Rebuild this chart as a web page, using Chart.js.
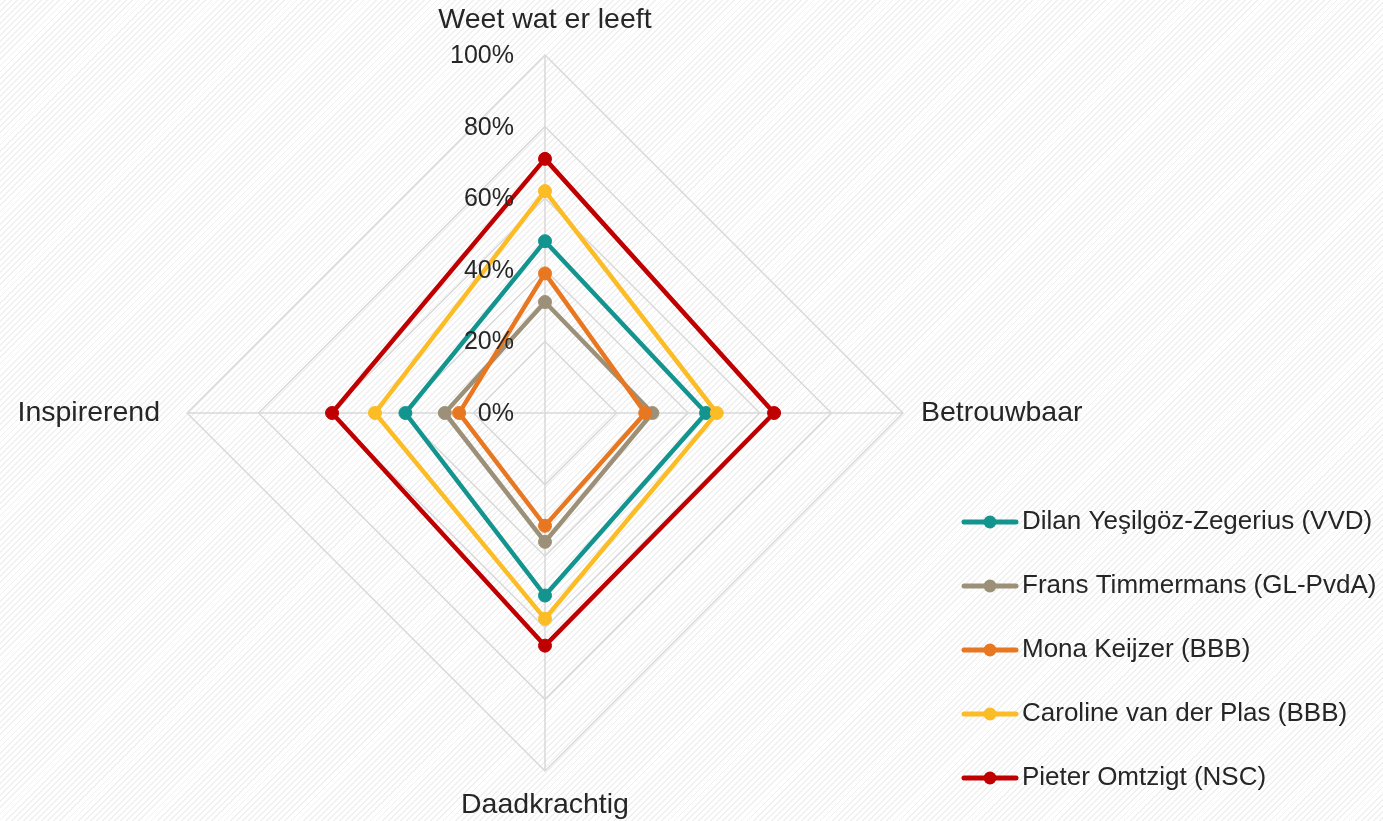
<!DOCTYPE html>
<html>
<head>
<meta charset="utf-8">
<script src="https://cdn.jsdelivr.net/npm/chart.js@4/dist/chart.umd.min.js"></script>
<style>
  html, body { margin: 0; padding: 0; }
  body {
    width: 1383px; height: 821px; overflow: hidden;
    background-color: #ffffff;
    background-image: repeating-linear-gradient(135deg, #ffffff 0px, #ffffff 3px, #f0f0f0 3px, #f0f0f0 4.3px);
  }
  #wrap { position: relative; width: 1383px; height: 821px; }
</style>
</head>
<body>
<div id="wrap"><canvas id="c" width="1383" height="821"></canvas></div>
<script>
const categories = ['Weet wat er leeft', 'Betrouwbaar', 'Daadkrachtig', 'Inspirerend'];
const seriesNames = [
  'Dilan Yeşilgöz-Zegerius (VVD)',
  'Frans Timmermans (GL-PvdA)',
  'Mona Keijzer (BBB)',
  'Caroline van der Plas (BBB)',
  'Pieter Omtzigt (NSC)'
];
const dilan = [48, 45, 51, 39];
const frans = [31, 30, 36, 28];
const mona = [39, 28, 31.5, 24];
const caroline = [62, 48, 57.5, 47.5];
const pieter = [71, 64, 65, 59.5];
const tickMin = 0, tickMax = 100, tickStep = 20;
const tickSuffix = '%';

const colors = ['#14948F', '#9C9178', '#E87722', '#FBBC26', '#C00000'];
const seriesValues = [dilan, frans, mona, caroline, pieter];
const FONT = '"Liberation Sans", Arial, Helvetica, sans-serif';
const TEXT = '#262626';
const labelPadding = [20, 18, 20, 27];

const datasets = seriesValues.map((vals, i) => ({
  label: seriesNames[i],
  data: vals,
  borderColor: colors[i],
  backgroundColor: colors[i],
  pointBackgroundColor: colors[i],
  pointBorderColor: colors[i],
  borderWidth: 4.5,
  pointRadius: 6.5,
  pointBorderWidth: 1,
  fill: false,
  order: seriesValues.length - 1 - i
}));

const tickLabelPlugin = {
  id: 'tickLabels',
  afterDatasetsDraw(chart) {
    const s = chart.scales.r;
    const ctx = chart.ctx;
    ctx.save();
    ctx.font = '25px ' + FONT;
    ctx.fillStyle = TEXT;
    ctx.textAlign = 'right';
    ctx.textBaseline = 'middle';
    s.ticks.forEach(t => {
      const d = s.getDistanceFromCenterForValue(t.value);
      ctx.fillText(t.label, s.xCenter - 31, s.yCenter - d + 1);
    });
    ctx.restore();
  }
};

const legendPlugin = {
  id: 'sideLegend',
  afterDraw(chart) {
    const ctx = chart.ctx;
    ctx.save();
    chart.data.datasets.forEach((ds, i) => {
      const y = 522 + i * 64;
      ctx.strokeStyle = ds.borderColor;
      ctx.lineWidth = 5;
      ctx.lineCap = 'round';
      ctx.beginPath();
      ctx.moveTo(964, y);
      ctx.lineTo(1016, y);
      ctx.stroke();
      ctx.fillStyle = ds.borderColor;
      ctx.beginPath();
      ctx.arc(990, y, 6.5, 0, Math.PI * 2);
      ctx.fill();
      ctx.fillStyle = TEXT;
      ctx.font = '26px ' + FONT;
      ctx.textAlign = 'left';
      ctx.textBaseline = 'middle';
      ctx.fillText(ds.label, 1022, y);
    });
    ctx.restore();
  }
};

new Chart(document.getElementById('c'), {
  type: 'radar',
  data: { labels: categories, datasets },
  options: {
    responsive: false,
    animation: false,
    layout: { padding: { left: 0, right: 281, top: 7, bottom: 0 } },
    plugins: {
      legend: { display: false },
      tooltip: { enabled: false }
    },
    elements: { line: { tension: 0 } },
    scales: {
      r: {
        min: tickMin,
        max: tickMax,
        beginAtZero: true,
        ticks: {
          stepSize: tickStep,
          display: false,
          callback: v => v + tickSuffix
        },
        grid: { color: '#d9d9d9', lineWidth: 1.5 },
        angleLines: { color: '#d9d9d9', lineWidth: 1.5 },
        pointLabels: {
          color: TEXT,
          padding: ctx => labelPadding[ctx.index],
          font: { family: FONT, size: 28.5, lineHeight: 1.02 }
        }
      }
    }
  },
  plugins: [tickLabelPlugin, legendPlugin]
});
</script>
</body>
</html>
